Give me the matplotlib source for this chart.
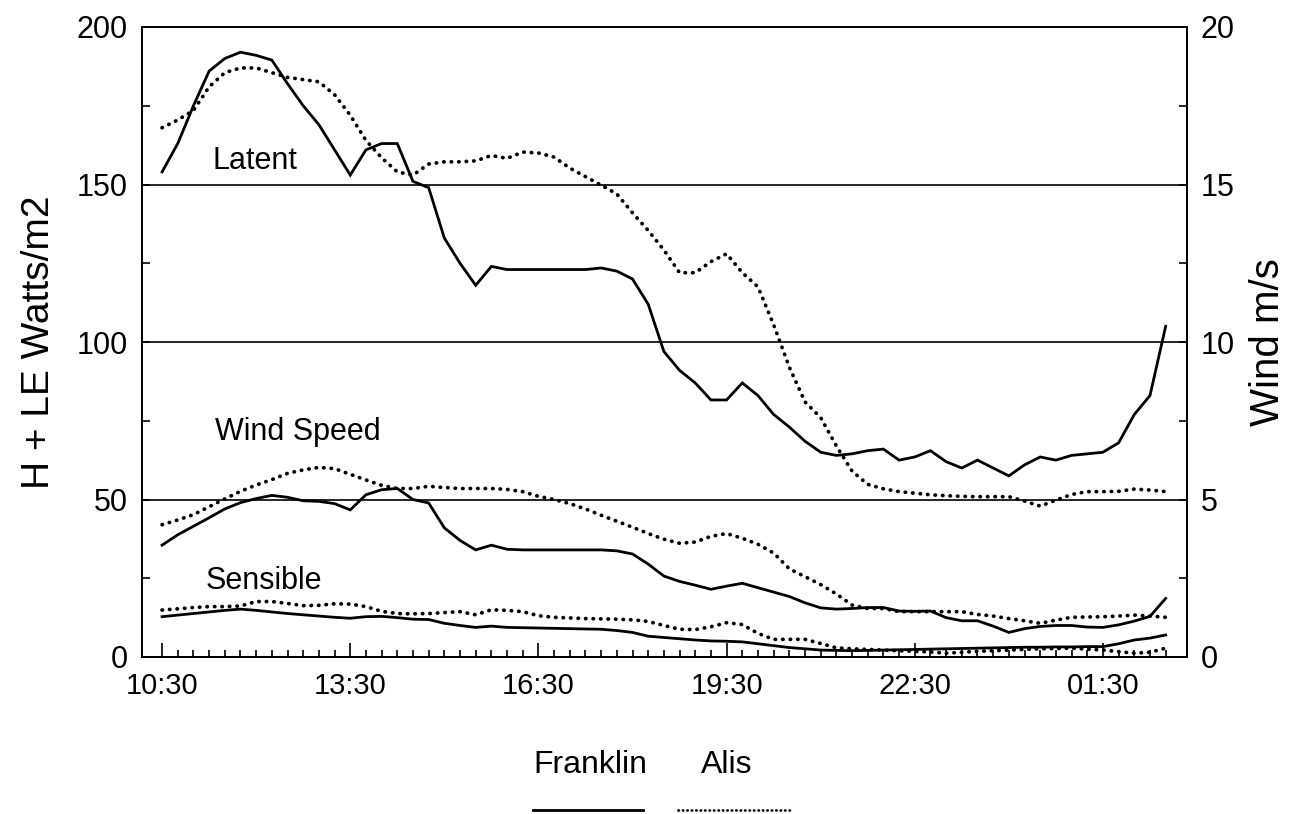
import numpy as np
import matplotlib
matplotlib.use("Agg")
import matplotlib.pyplot as plt
from matplotlib.lines import Line2D
from matplotlib.ticker import FixedLocator

plt.rcParams['font.family'] = ['Liberation Sans', 'DejaVu Sans']

# sample times: hours after 10:30, 15-minute steps
hours = np.arange(65) * 0.25
tick_hours = [0, 3, 6, 9, 12, 15]
tick_labels = ["10:30", "13:30", "16:30", "19:30", "22:30", "01:30"]

latent_franklin = [154, 163, 175, 186, 190, 192, 191, 189.5, 182, 175, 169, 161, 153, 161, 163, 163,
                   151, 149, 133, 125, 118, 124, 123, 123, 123, 123, 123, 123, 123.5, 122.5, 120, 112,
                   97, 91, 87, 81.6, 81.6, 87, 83, 77, 73, 68.5, 65, 64, 64.5, 65.5, 66, 62.5,
                   63.5, 65.5, 62, 60, 62.5, 60, 57.5, 61, 63.5, 62.5, 64, 64.5, 65, 68, 77, 83, 105]
latent_alis = [168, 170.5, 173.5, 181, 185.5, 187, 187, 185.5, 184, 183.3, 182.6, 178.5, 172, 164, 158.5, 154,
               153, 156.5, 157.2, 157.2, 157.5, 159.2, 158.3, 160.3, 160, 158.7, 155.2, 152.5, 149.8, 147, 141, 135.4,
               129.2, 122, 122, 125.5, 128, 122, 117.5, 105.5, 92, 81, 76, 67, 59, 54.8, 53.4, 52.5,
               52, 51.5, 51.2, 51, 50.9, 50.9, 50.9, 49.5, 47.9, 49.8, 51.6, 52.5, 52.5, 52.6, 53.3, 53, 52.5]
wind_franklin = [3.55, 3.88, 4.15, 4.42, 4.70, 4.90, 5.03, 5.13, 5.07, 4.96, 4.94, 4.87, 4.67, 5.15, 5.31, 5.35,
                 5.00, 4.89, 4.10, 3.70, 3.40, 3.55, 3.42, 3.40, 3.40, 3.40, 3.40, 3.40, 3.40, 3.37, 3.27, 2.95,
                 2.57, 2.40, 2.28, 2.15, 2.25, 2.34, 2.20, 2.06, 1.92, 1.72, 1.56, 1.52, 1.54, 1.57, 1.57, 1.46,
                 1.45, 1.46, 1.25, 1.15, 1.15, 0.98, 0.78, 0.90, 0.97, 1.00, 1.00, 0.95, 0.94, 1.02, 1.14, 1.29, 1.86]
wind_alis = [4.20, 4.35, 4.52, 4.77, 5.02, 5.26, 5.46, 5.63, 5.83, 5.94, 6.02, 5.98, 5.80, 5.62, 5.45, 5.35,
             5.35, 5.42, 5.38, 5.35, 5.35, 5.35, 5.32, 5.25, 5.10, 5.00, 4.87, 4.70, 4.50, 4.31, 4.12, 3.92,
             3.74, 3.61, 3.65, 3.83, 3.92, 3.77, 3.58, 3.30, 2.80, 2.55, 2.30, 2.00, 1.65, 1.54, 1.54, 1.44,
             1.44, 1.44, 1.44, 1.44, 1.35, 1.30, 1.22, 1.15, 1.07, 1.17, 1.26, 1.27, 1.28, 1.30, 1.33, 1.30, 1.26]
sensible_franklin = [12.8, 13.3, 13.8, 14.3, 14.8, 15.2, 14.8, 14.3, 13.8, 13.4, 13.0, 12.6, 12.3, 12.8, 12.9, 12.5,
                     12.0, 11.9, 10.7, 10.0, 9.4, 9.8, 9.4, 9.3, 9.2, 9.1, 9.0, 8.9, 8.8, 8.4, 7.8, 6.6,
                     6.2, 5.8, 5.4, 5.1, 5.0, 4.8, 4.2, 3.6, 3.0, 2.6, 2.2, 2.1, 2.0, 2.1, 2.2, 2.3,
                     2.4, 2.5, 2.6, 2.7, 2.8, 2.9, 3.0, 3.1, 3.1, 3.2, 3.2, 3.3, 3.3, 4.2, 5.4, 6.0, 7.0]
sensible_alis = [14.9, 15.3, 15.7, 16.0, 16.0, 16.2, 17.6, 17.6, 17.0, 16.3, 16.4, 16.9, 16.8, 16.0, 14.5, 13.8,
                 13.7, 13.8, 14.1, 14.4, 13.4, 15.0, 14.8, 14.4, 13.1, 12.6, 12.4, 12.2, 12.1, 12.0, 11.8, 11.3,
                 10.0, 8.8, 8.7, 9.6, 10.9, 10.3, 7.5, 5.6, 5.6, 5.6, 4.3, 2.9, 2.6, 2.4, 2.2, 2.0,
                 1.8, 1.6, 1.2, 1.5, 1.8, 2.0, 2.2, 2.4, 2.6, 2.7, 2.8, 2.5, 2.2, 1.7, 1.2, 1.5, 2.8]

W, H = 1292, 814
fig = plt.figure(figsize=(W / 100, H / 100), dpi=100)
ax = fig.add_axes([142 / W, 1 - 657 / H, (1187 - 142) / W, (657 - 27) / H])
ax2 = ax.twinx()

solid = dict(color='black', lw=2.0, linestyle='-', solid_joinstyle='miter')
dotted = dict(color='black', lw=2.7, linestyle=(0, (0.1, 1.9)), dash_capstyle='round')

ax.plot(hours, latent_franklin, **solid)
ax.plot(hours, latent_alis, **dotted)
ax.plot(hours, sensible_franklin, **solid)
ax.plot(hours, sensible_alis, **dotted)
ax2.plot(hours, wind_franklin, **solid)
ax2.plot(hours, wind_alis, **dotted)

ax.set_xlim(-0.32, 16.34)
ax.set_ylim(0, 200)
ax2.set_ylim(0, 20)

ax.set_yticks([0, 50, 100, 150, 200])
ax.yaxis.set_minor_locator(FixedLocator([25, 75, 125, 175]))
ax2.set_yticks([0, 5, 10, 15, 20])
ax2.yaxis.set_minor_locator(FixedLocator([2.5, 7.5, 12.5, 17.5]))
ax.grid(axis='y', which='major', color='black', lw=1.2)

ax.set_xticks(tick_hours)
ax.set_xticklabels(tick_labels)
ax.xaxis.set_minor_locator(FixedLocator(list(hours)))

ax.tick_params(axis='x', which='major', direction='in', length=10, width=1.2, labelsize=21, pad=11)
ax.tick_params(axis='x', which='minor', direction='in', length=5, width=1.2)
ax.tick_params(axis='y', which='both', direction='in', length=6, width=1.2, labelsize=22, pad=10)
ax2.tick_params(axis='y', which='both', direction='in', length=6, width=1.2, labelsize=22, pad=10)

for a in (ax, ax2):
    for s in a.spines.values():
        s.set_linewidth(1.4)

ax.set_ylabel("H + LE Watts/m2", fontsize=28, labelpad=14)
ax2.set_ylabel("Wind m/s", fontsize=29, labelpad=10)

ax.text(0.8, 155, "Latent", fontsize=22, ha='left', va='baseline')
ax.text(0.85, 69, "Wind Speed", fontsize=22, ha='left', va='baseline')
ax.text(0.69, 21.5, "Sensible", fontsize=22, ha='left', va='baseline')

# legend: names above line samples
fig.text(590 / W, 1 - 765 / H, "Franklin", fontsize=23, ha='center', va='center')
fig.text(727 / W, 1 - 765 / H, "Alis", fontsize=23, ha='center', va='center')
fig.add_artist(Line2D([533 / W, 643 / W], [1 - 810 / H] * 2, transform=fig.transFigure, **solid))
fig.add_artist(Line2D([678 / W, 790 / W], [1 - 810 / H] * 2, transform=fig.transFigure,
                      color='black', lw=2.0, linestyle=(0, (0.1, 1.5)), dash_capstyle='round'))

fig.savefig("out.png", dpi=100, facecolor='white')
